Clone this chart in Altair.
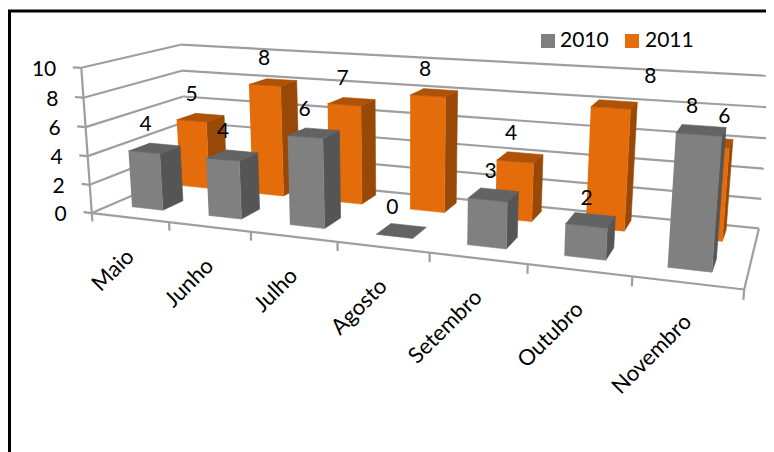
import altair as alt
import numpy as np
import pandas as pd

categories = ["Maio", "Junho", "Julho", "Agosto", "Setembro", "Outubro", "Novembro"]
values_2010 = [4, 4, 6, 0, 3, 2, 8]
values_2011 = [5, 8, 7, 8, 4, 8, 6]
y_ticks = [0, 2, 4, 6, 8, 10]
series_names = ["2010", "2011"]

GRAY = dict(front="#808080", top="#636363", side="#555555")
ORANGE = dict(front="#E46C0A", top="#AE5207", side="#984807")
GRID = "#9E9E9E"
FONT = "Lato"

# Camera calibration: (category axis, depth, value) -> picture position
CAL = [
    ((0, 0, 0), (93, 211)), ((7, 0, 0), (745, 289)), ((7, 1, 0), (759, 226)),
    ((0, 1, 0), (186, 175)), ((0, 0, 10), (80, 69)), ((0, 1, 10), (182, 43)),
    ((7, 1, 10), (771, 77)), ((1, 0, 0), (169, 221.7)), ((2, 0, 0), (251, 232.7)),
    ((3, 0, 0), (337, 241.7)), ((4, 0, 0), (430, 252.7)), ((5, 0, 0), (527, 265)),
    ((6, 0, 0), (632, 278)), ((7, 1, 8), (769, 108)), ((7, 1, 4), (764, 168)),
    ((0, 0, 4), (88, 155)), ((0, 1, 4), (184, 122)),
]
A = []
for (X, Y, Z), (x, y) in CAL:
    A.append([X, Y, Z, 1, 0, 0, 0, 0, -x * X, -x * Y, -x * Z, -x])
    A.append([0, 0, 0, 0, X, Y, Z, 1, -y * X, -y * Y, -y * Z, -y])
P = np.linalg.svd(np.array(A, float))[2][-1].reshape(3, 4)


def proj(u, v, w):
    p = P @ np.array([u, v, w, 1.0])
    return float(p[0] / p[2]), float(p[1] / p[2])


BAR_U = (0.27, 0.68)
DEPTH = {"2010": (0.19, 0.40), "2011": (0.70, 0.91)}

# grid / frame lines
lines = []


def seg(a, b):
    k = len(lines)
    lines.append(dict(id=k, o=0, x=a[0], y=a[1]))
    lines.append(dict(id=k, o=1, x=b[0], y=b[1]))


for t in y_ticks:
    seg(proj(0, 0, t), proj(0, 1, t))
    seg(proj(0, 1, t), proj(7, 1, t))
    seg(proj(-0.11, 0, t), proj(0, 0, t))
seg(proj(0, 0, 0), proj(0, 0, 10))
seg(proj(0, 0, 0), proj(7, 0, 0))
seg(proj(7, 0, 0), proj(7, 1, 0))
for i in range(len(categories) + 1):
    seg(proj(i, 0, 0), proj(i, 0, -0.6))
lines = pd.DataFrame(lines).assign(x=lambda d: d.x.round(1), y=lambda d: d.y.round(1))

# bar faces, painted back to front
faces = []
fid = 0


def add_face(pts, color):
    global fid
    for o, p in enumerate(pts):
        x, y = proj(*p)
        faces.append(dict(face=f"f{fid:03d}", o=o, x=round(x, 1), y=round(y, 1), c=color))
    fid += 1


def add_bar(i, name, val, pal):
    u0, u1 = i + BAR_U[0], i + BAR_U[1]
    v0, v1 = DEPTH[name]
    if val > 0:
        add_face([(u1, v0, 0), (u1, v1, 0), (u1, v1, val), (u1, v0, val)], pal["side"])
        add_face([(u0, v0, 0), (u1, v0, 0), (u1, v0, val), (u0, v0, val)], pal["front"])
    add_face([(u0, v0, val), (u1, v0, val), (u1, v1, val), (u0, v1, val)], pal["top"])


for i, val in enumerate(values_2011):
    add_bar(i, "2011", val, ORANGE)
for i, val in enumerate(values_2010):
    add_bar(i, "2010", val, GRAY)
faces = pd.DataFrame(faces)

# data labels sit above their bar top
LABEL_OFFSET = (-9, -23)
OUTLIER = {("2011", 5): (36, -27), ("2011", 6): (14, -25), ("2010", 4): (-3, -23), ("2010", 5): (-4, -21)}
labels = []
for name, vals in (("2010", values_2010), ("2011", values_2011)):
    v0, v1 = DEPTH[name]
    for i, val in enumerate(vals):
        x, y = proj(i + 0.475, (v0 + v1) / 2, val)
        dx, dy = OUTLIER.get((name, i), LABEL_OFFSET)
        labels.append(dict(x=round(x + dx, 1), y=round(y + dy, 1), t=str(val)))
labels = pd.DataFrame(labels)

ytick_labels = []
for t in y_ticks:
    x, y = proj(0, 0, t)
    ytick_labels.append(dict(x=round(x - 25, 1), y=round(y + 2, 1), t=str(t)))
ytick_labels = pd.DataFrame(ytick_labels)

cat_labels = []
for i, c in enumerate(categories):
    x, y = proj(i + 0.5, 0, 0)
    cat_labels.append(dict(x=round(x + 0.5, 1), y=round(y + 35.5, 1), t=c))
cat_labels = pd.DataFrame(cat_labels)

sx = alt.Scale(domain=[8, 766], nice=False, zero=False)
sy = alt.Scale(domain=[452, 8], nice=False, zero=False)
X = alt.X("x:Q", scale=sx, axis=None)
Y = alt.Y("y:Q", scale=sy, axis=None)

grid = alt.Chart(lines).mark_line(color=GRID, strokeWidth=2.2, clip=False).encode(
    x=X, y=Y, order="o:Q", detail="id:N")
bars = alt.Chart(faces).mark_line(strokeWidth=0.6).encode(
    x=X, y=Y, order="o:Q", detail="face:N",
    fill=alt.Fill("c:N", scale=None), stroke=alt.Stroke("c:N", scale=None))


def text(df, **kw):
    return alt.Chart(df).mark_text(font=FONT, color="#000000", **kw).encode(x=X, y=Y, text="t:N")


lab_text = text(labels, fontSize=21, align="center", baseline="middle")
ytxt = text(ytick_labels, fontSize=21, align="right", baseline="middle")
cats = text(cat_labels, fontSize=22, align="right", baseline="middle", angle=315)

legend_sw = pd.DataFrame(dict(x=[548, 632], y=[41, 41], c=[GRAY["front"], ORANGE["front"]]))
legend_tx = pd.DataFrame(dict(x=[560, 645], y=[41, 41], t=series_names))
sw = alt.Chart(legend_sw).mark_square(size=196, opacity=1).encode(
    x=X, y=Y, fill=alt.Fill("c:N", scale=None), stroke=alt.value(None))
lt = text(legend_tx, fontSize=21, align="left", baseline="middle")

frame = pd.DataFrame(dict(x=[9.5, 9.5, 774], y=[452, 11, 11], o=[0, 1, 2]))
fr = alt.Chart(frame).mark_line(color="#000000", strokeWidth=3).encode(x=X, y=Y, order="o:Q")

chart = alt.layer(grid, bars, lab_text, ytxt, cats, sw, lt, fr).properties(
    width=758, height=444, padding=0, autosize=alt.AutoSizeParams(type="none")
).configure_view(stroke=None)

chart.save("out.html", embed_options={"renderer": "svg", "actions": False})
